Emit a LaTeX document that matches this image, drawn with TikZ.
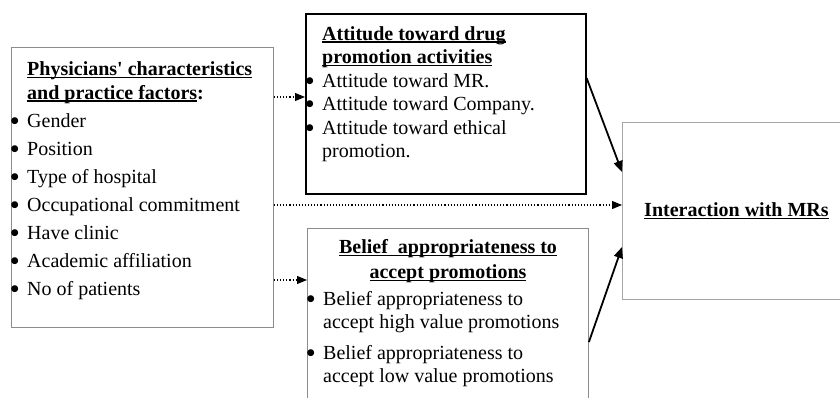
\documentclass[tikz,border=0pt]{standalone}
\usepackage{fontspec}
\setmainfont{Liberation Serif}
\newfontfamily\dotfont{DejaVu Sans}
\usetikzlibrary{arrows.meta, positioning}

% underline that runs through descenders, and a hanging bullet
\newcommand{\uln}[1]{\setbox0\hbox{#1}\rlap{\rule[-2.6pt]{\wd0}{1.3pt}}\box0}
\newcommand{\itm}{\llap{\raisebox{3.6pt}{\dotfont\fontsize{9}{9}\selectfont ●}\hspace{8.5pt}}}

\begin{document}
\begin{tikzpicture}[x=1pt, y=-1pt,
    box/.style={draw=black!45, line width=0.9pt, inner sep=0pt, anchor=north west},
    txt/.style={align=left, inner sep=0pt, anchor=north west, font=\fontsize{20}{23.5}\selectfont},
    dotarrow/.style={dotted, line width=1.1pt, -{Triangle[length=10pt, width=8pt]}},
    solidarrow/.style={line width=1.8pt, -{Triangle[length=11pt, width=9pt]}}
]
\useasboundingbox (0,0) rectangle (840,398);

% Boxes
\node[box, minimum width=262pt, minimum height=280pt] (phys) at (11,47) {};
\node[box, draw=black, line width=1.6pt, minimum width=280pt, minimum height=180pt] (att) at (305,13) {};
\node[box, minimum width=281pt, minimum height=200pt] (belief) at (307,228) {};
\node[box, draw=black!35, minimum width=228pt, minimum height=177pt,
    font=\fontsize{20}{23.5}\selectfont] (inter) at (622,122) {\textbf{\uln{Interaction with MRs}}};

% Physicians' factors
\node[txt] (physt) at (27,61.5) {%
    \textbf{\uln{Physicians\textquotesingle\ characteristics}}\\
    \textbf{\uln{and practice factors}:}\\[4.5pt]
    \itm Gender\\[4.5pt]
    \itm Position\\[4.5pt]
    \itm Type of hospital\\[4.5pt]
    \itm Occupational commitment\\[4.5pt]
    \itm Have clinic\\[4.5pt]
    \itm Academic affiliation\\[4.5pt]
    \itm No of patients};

% Attitude
\node[txt] (attt) at (322,26) {%
    \textbf{\uln{Attitude toward drug}}\\
    \textbf{\uln{promotion activities}}\\
    \itm Attitude toward MR.\\
    \itm Attitude toward Company.\\
    \itm Attitude toward ethical\\
    promotion.};

% Belief
\node[txt, align=center, anchor=north] (belieft) at (448,239.5) {%
    \textbf{\uln{Belief\ \ appropriateness to}}\\[1.5pt]
    \textbf{\uln{accept promotions}}};
\node[txt] (beliefi) at (323,291) {%
    \itm Belief appropriateness to\\
    accept high value promotions\\[7pt]
    \itm Belief appropriateness to\\
    accept low value promotions};

% Connectors
\coordinate (r1) at (0,97);
\coordinate (r2) at (0,205);
\coordinate (r3) at (0,280);
\coordinate (s1) at (0,78);
\coordinate (s2) at (0,172);
\coordinate (s3) at (0,342);
\coordinate (s4) at (0,247);
\draw[dotarrow] (phys.east |- r1) -- (att.west |- r1);
\draw[dotarrow] (phys.east |- r2) -- (inter.west |- r2);
\draw[dotarrow] (phys.east |- r3) -- (belief.west |- r3);
\draw[solidarrow] (att.east |- s1) -- (inter.west |- s2);
\draw[solidarrow] (belief.east |- s3) -- (inter.west |- s4);

\end{tikzpicture}
\end{document}
